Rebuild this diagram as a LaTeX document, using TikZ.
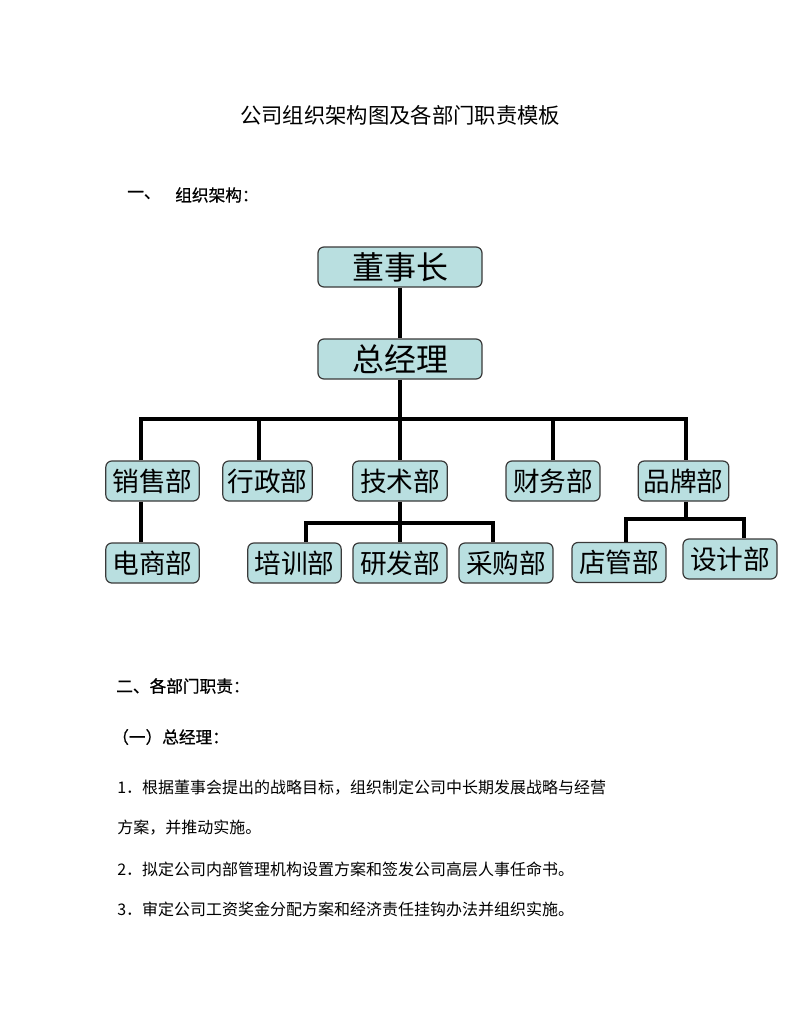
\documentclass[tikz,border=0pt]{standalone}
\usepackage{fontspec}
\setmainfont{Noto Sans CJK SC}
\newfontfamily\headfont[FakeBold=0.7]{Noto Sans CJK SC}
\definecolor{boxfill}{HTML}{B9DFE0}
\definecolor{boxline}{HTML}{3A3A3A}
\tikzset{
  orgbox/.style={draw=boxline, fill=boxfill, line width=0.9pt, rounded corners=4.5pt,
    minimum height=30pt, inner sep=0pt, font=\fontsize{20}{22}\selectfont},
  topbox/.style={orgbox, minimum width=123pt, font=\fontsize{24}{26}\selectfont},
  link/.style={line width=3pt, line join=miter},
  bodytext/.style={anchor=west, inner sep=0pt, font=\fontsize{12}{14}\selectfont},
  headtext/.style={anchor=west, inner sep=0pt, font=\headfont\fontsize{12.5}{14}\selectfont},
}
\begin{document}
\begin{tikzpicture}[x=0.75pt,y=-0.75pt]
\useasboundingbox (0,0) rectangle (800,1035);
\fill[white] (0,0) rectangle (800,1035);

% title and section heading
\node[inner sep=0pt, font=\fontsize{16}{18}\selectfont] (title) at (400,115) {公司组织架构图及各部门职责模板};
\node[headtext] (h1a) at (127,195) {一、};
\node[headtext] (h1b) at (175,195) {组织架构：};

% boxes
\node[topbox] (dsz) at (400,267) {董事长};
\node[topbox] (zjl) at (400,359) {总经理};
\node[orgbox, minimum width=70pt] (xs) at (152.5,481) {销售部};
\node[orgbox, minimum width=67pt] (xz) at (267.5,481) {行政部};
\node[orgbox, minimum width=71pt] (js) at (400,481) {技术部};
\node[orgbox, minimum width=70.5pt] (cw) at (553,481) {财务部};
\node[orgbox, minimum width=68pt] (pp) at (683.5,481) {品牌部};
\node[orgbox, minimum width=70pt] (ds) at (152.5,563) {电商部};
\node[orgbox, minimum width=70pt] (px) at (294.5,563) {培训部};
\node[orgbox, minimum width=70.5pt] (yf) at (400,563) {研发部};
\node[orgbox, minimum width=70.5pt] (cg) at (506,563) {采购部};
\node[orgbox, minimum width=70.5pt] (dg) at (619,562.5) {店管部};
\node[orgbox, minimum width=70.5pt] (sj) at (730,559) {设计部};

% bus coordinates
\coordinate (bL) at (141,419);
\coordinate (bX) at (259,419);
\coordinate (bR) at (686,419);
\coordinate (tL) at (306,523);
\coordinate (tR) at (493,523);
\coordinate (pL) at (626,519);
\coordinate (pR) at (744,519);

% connectors
\draw[link] (dsz.south) -- (zjl.north);
\draw[link] (zjl.south) -- (js.north);
\draw[link] (bL |- xs.north) -- (bL) -- (bR) -- (bR |- pp.north);
\draw[link] (bX) -- (bX |- xz.north);
\draw[link] (cw.north) -- (cw.north |- bL);
\draw[link] (bL |- xs.south) -- (bL |- ds.north);
\draw[link] (js.south) -- (yf.north);
\draw[link] (tL |- px.north) -- (tL) -- (tR) -- (tR |- cg.north);
\draw[link] (bR |- pp.south) -- (bR |- pL);
\draw[link] (pL |- dg.north) -- (pL) -- (pR) -- (pR |- sj.north);

% text section
\node[headtext] (h2) at (116,686) {二、各部门职责：};
\node[headtext] (h3) at (112,737) {（一）总经理：};
\node[bodytext] (l1) at (117,788) {1．根据董事会提出的战略目标，组织制定公司中长期发展战略与经营};
\node[bodytext] (l2) at (117,828) {方案，并推动实施。};
\node[bodytext] (l3) at (117,869) {2．拟定公司内部管理机构设置方案和签发公司高层人事任命书。};
\node[bodytext] (l4) at (117,909) {3．审定公司工资奖金分配方案和经济责任挂钩办法并组织实施。};
\end{tikzpicture}
\end{document}
